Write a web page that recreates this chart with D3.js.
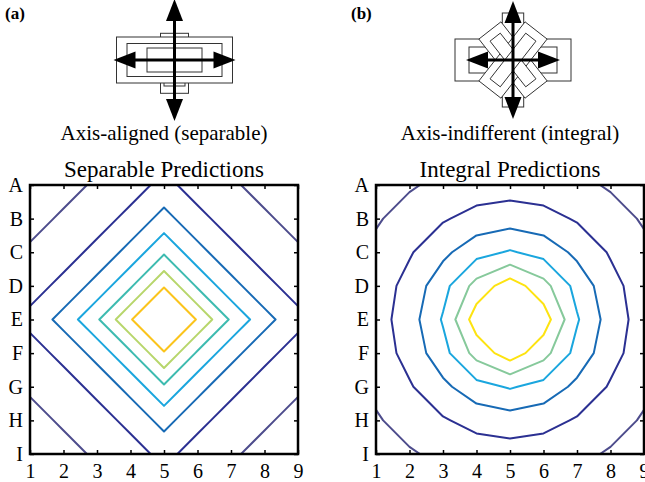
<!DOCTYPE html>
<html>
<head>
<meta charset="utf-8">
<script src="https://cdn.jsdelivr.net/npm/d3@7"></script>
<style>
  body { margin: 0; background: #fff; }
  svg { display: block; }
</style>
</head>
<body>
<svg id="chart" width="645" height="482"></svg>
<script>
// grid axes
const columns = [1, 2, 3, 4, 5, 6, 7, 8, 9];
const rowNames = ['A', 'B', 'C', 'D', 'E', 'F', 'G', 'H', 'I'];

// predicted generalization on the 9x9 grid (row A first)
const separableGrid = [
  [0.130, 0.165, 0.215, 0.2565, 0.329, 0.2565, 0.215, 0.165, 0.130],
  [0.165, 0.215, 0.2565, 0.329, 0.435, 0.329, 0.2565, 0.215, 0.165],
  [0.215, 0.2565, 0.329, 0.435, 0.586, 0.435, 0.329, 0.2565, 0.215],
  [0.2565, 0.329, 0.435, 0.586, 0.790, 0.586, 0.435, 0.329, 0.2565],
  [0.329, 0.435, 0.586, 0.790, 1.000, 0.790, 0.586, 0.435, 0.329],
  [0.2565, 0.329, 0.435, 0.586, 0.790, 0.586, 0.435, 0.329, 0.2565],
  [0.215, 0.2565, 0.329, 0.435, 0.586, 0.435, 0.329, 0.2565, 0.215],
  [0.165, 0.215, 0.2565, 0.329, 0.435, 0.329, 0.2565, 0.215, 0.165],
  [0.130, 0.165, 0.215, 0.2565, 0.329, 0.2565, 0.215, 0.165, 0.130]
];
const separableLevels = [0.2, 0.3, 0.4, 0.5, 0.6, 0.7, 0.8];
const separableColors = ['#4d4c8c', '#2b3092', '#176ab5', '#1aa6de', '#3dbbb0', '#b7d66b', '#fbc41c'];

const integralGrid = [
  [0.157, 0.190, 0.222, 0.245, 0.254, 0.245, 0.222, 0.190, 0.157],
  [0.190, 0.237, 0.290, 0.335, 0.354, 0.335, 0.290, 0.237, 0.190],
  [0.222, 0.290, 0.376, 0.465, 0.510, 0.465, 0.376, 0.290, 0.222],
  [0.245, 0.335, 0.465, 0.637, 0.754, 0.637, 0.465, 0.335, 0.245],
  [0.254, 0.354, 0.510, 0.754, 1.000, 0.754, 0.510, 0.354, 0.254],
  [0.245, 0.335, 0.465, 0.637, 0.754, 0.637, 0.465, 0.335, 0.245],
  [0.222, 0.290, 0.376, 0.465, 0.510, 0.465, 0.376, 0.290, 0.222],
  [0.190, 0.237, 0.290, 0.335, 0.354, 0.335, 0.290, 0.237, 0.190],
  [0.157, 0.190, 0.222, 0.245, 0.254, 0.245, 0.222, 0.190, 0.157]
];
const integralLevels = [0.2, 0.3, 0.4, 0.5, 0.6, 0.7];
const integralColors = ['#4d4c8c', '#2b3092', '#176ab5', '#1aa6de', '#86c99b', '#fde311'];

// hypothesis sketches, in sketch units around the centre (x0, y0, x1, y1)
const alignedRects = [
  [-1.4, -2.67, 1.4, 3.33],
  [-1.05, -2.0, 1.05, 2.6],
  [-5.8, -2.3, 5.8, 2.3],
  [-4.75, -1.65, 4.75, 1.65],
  [-2.75, -1.2, 2.75, 1.2]
];
const indifferentRects = [
  [-5.8, -2.1, 5.8, 2.1],
  [-4.4, -1.3, 4.4, 1.3],
  [-1.07, -4.7, 1.07, 4.7]
];
// rotated hypotheses: half length, half width, angle in degrees
const indifferentRotated = [
  [3.75, 1.4, 52],
  [3.75, 1.4, -52],
  [2.9, 0.65, 52],
  [2.9, 0.65, -52]
];
const alignedArrows = [[-6.1, 0, 6.1, 0], [0, -6.1, 0, 6.1]];
const indifferentArrows = [[-4.7, 0, 4.7, 0], [0, -5.9, 0, 5.9]];

const panels = [
  { tag: '(a)', title: 'Separable Predictions', caption: 'Axis-aligned (separable)',
    grid: separableGrid, levels: separableLevels, colors: separableColors,
    rects: alignedRects, rotated: [], arrows: alignedArrows,
    left: 30, sketchX: 174.5 },
  { tag: '(b)', title: 'Integral Predictions', caption: 'Axis-indifferent (integral)',
    grid: integralGrid, levels: integralLevels, colors: integralColors,
    rects: indifferentRects, rotated: indifferentRotated, arrows: indifferentArrows,
    left: 376, sketchX: 513 }
];

const size = 268;
const plotTop = 185;
const serif = '"Liberation Serif", "DejaVu Serif", serif';

const svg = d3.select('#chart');

panels.forEach((p, i) => {
  const x = d3.scaleLinear().domain([1, 9]).range([p.left, p.left + size]);
  const yIdx = d3.scaleLinear().domain([0, 8]).range([plotTop, plotTop + size + 1]);
  const y = d3.scalePoint().domain(rowNames).range([plotTop, plotTop + size + 1]);

  // contours
  const clipId = 'clip' + i;
  svg.append('clipPath').attr('id', clipId)
    .append('rect')
    .attr('x', p.left).attr('y', plotTop)
    .attr('width', size).attr('height', size + 1);

  const contours = d3.contours()
    .size([9, 9])
    .thresholds(p.levels)(p.grid.flat());

  const path = d3.geoPath(d3.geoTransform({
    point(cx, cy) { this.stream.point(x(cx + 0.5), yIdx(cy - 0.5)); }
  }));

  svg.append('g')
    .attr('clip-path', `url(#${clipId})`)
    .attr('fill', 'none')
    .attr('stroke-width', 2)
    .attr('stroke-linejoin', 'round')
    .selectAll('path')
    .data(contours)
    .join('path')
    .attr('stroke', (d, k) => p.colors[k])
    .attr('d', path);

  // axes, ticks pointing inwards
  const bottom = svg.append('g')
    .attr('transform', `translate(0,${plotTop + size + 1})`)
    .call(d3.axisBottom(x).tickValues(columns).tickSize(-4).tickSizeOuter(0).tickPadding(10));
  const leftAx = svg.append('g')
    .attr('transform', `translate(${p.left},0)`)
    .call(d3.axisLeft(y).tickSize(-4).tickSizeOuter(0).tickPadding(7));
  svg.append('g')
    .attr('transform', `translate(0,${plotTop})`)
    .call(d3.axisTop(x).tickValues(columns).tickSize(-4).tickSizeOuter(0).tickFormat(''));
  svg.append('g')
    .attr('transform', `translate(${p.left + size},0)`)
    .call(d3.axisRight(y).tickSize(-4).tickSizeOuter(0).tickFormat(''));

  svg.selectAll('.domain').remove();
  svg.selectAll('.tick line').attr('stroke', '#000').attr('stroke-width', 1.5);
  [bottom, leftAx].forEach(ax => ax.selectAll('text')
    .attr('font-family', serif)
    .attr('font-size', 20)
    .attr('fill', '#000'));

  svg.append('rect')
    .attr('x', p.left).attr('y', plotTop)
    .attr('width', size).attr('height', size + 1)
    .attr('fill', 'none')
    .attr('stroke', '#000')
    .attr('stroke-width', 2.5);

  svg.append('text')
    .attr('x', p.left + size / 2).attr('y', 177)
    .attr('text-anchor', 'middle')
    .attr('font-family', serif).attr('font-size', 23)
    .text(p.title);

  svg.append('text')
    .attr('x', p.left + size / 2).attr('y', 140)
    .attr('text-anchor', 'middle')
    .attr('font-family', serif).attr('font-size', 21)
    .text(p.caption);

  svg.append('text')
    .attr('x', p.left - 25).attr('y', 19)
    .attr('font-family', serif).attr('font-size', 17).attr('font-weight', 'bold')
    .text(p.tag);

  // sketch of hypotheses
  const sx = d3.scaleLinear().domain([-1, 1]).range([p.sketchX - 10, p.sketchX + 10]);
  const sy = d3.scaleLinear().domain([-1, 1]).range([50, 70]);
  const sketch = svg.append('g');

  sketch.selectAll('rect.hyp')
    .data(p.rects)
    .join('rect')
    .attr('class', 'hyp')
    .attr('x', d => sx(d[0])).attr('y', d => sy(d[1]))
    .attr('width', d => sx(d[2]) - sx(d[0]))
    .attr('height', d => sy(d[3]) - sy(d[1]))
    .attr('fill', '#fff').attr('stroke', '#333').attr('stroke-width', 1);

  sketch.selectAll('polygon.rot')
    .data(p.rotated)
    .join('polygon')
    .attr('class', 'rot')
    .attr('points', ([a, b, ang]) => {
      const t = ang * Math.PI / 180;
      const u = [Math.cos(t), Math.sin(t)], v = [-Math.sin(t), Math.cos(t)];
      return [[1, 1], [1, -1], [-1, -1], [-1, 1]]
        .map(([s1, s2]) => [sx(s1 * a * u[0] + s2 * b * v[0]), sy(s1 * a * u[1] + s2 * b * v[1])].join(','))
        .join(' ');
    })
    .attr('fill', '#fff').attr('stroke', '#333').attr('stroke-width', 1);

  const headLen = 2.2, headHalf = 0.85;
  p.arrows.forEach(([x1, y1, x2, y2]) => {
    const len = Math.hypot(x2 - x1, y2 - y1);
    const ux = (x2 - x1) / len, uy = (y2 - y1) / len;
    sketch.append('line')
      .attr('x1', sx(x1 + ux * headLen * 0.8)).attr('y1', sy(y1 + uy * headLen * 0.8))
      .attr('x2', sx(x2 - ux * headLen * 0.8)).attr('y2', sy(y2 - uy * headLen * 0.8))
      .attr('stroke', '#000').attr('stroke-width', 3);
    [[x2, y2, 1], [x1, y1, -1]].forEach(([tx, ty, s]) => {
      const bx = tx - s * ux * headLen, by = ty - s * uy * headLen;
      sketch.append('polygon')
        .attr('points', [
          [sx(tx), sy(ty)],
          [sx(bx - uy * headHalf), sy(by + ux * headHalf)],
          [sx(bx + uy * headHalf), sy(by - ux * headHalf)]
        ].map(q => q.join(',')).join(' '))
        .attr('fill', '#000');
    });
  });
});
</script>
</body>
</html>
